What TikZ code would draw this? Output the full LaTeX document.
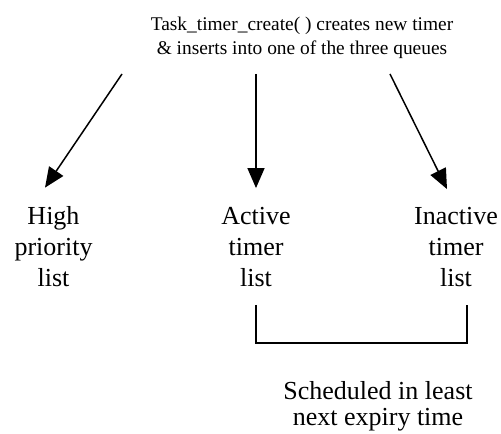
\documentclass[tikz,border=0pt]{standalone}
\usepackage{fontspec}
\setmainfont{Liberation Serif}
\usetikzlibrary{positioning,arrows.meta}

\begin{document}
\begin{tikzpicture}[
    x=1pt, y=1pt,
    >={Triangle[length=20pt,width=17pt]},
    head/.style={align=center, inner sep=0pt, font=\fontsize{19.4}{24}\selectfont},
    lst/.style={align=center, inner sep=0pt, font=\fontsize{26}{31}\selectfont},
    note/.style={align=center, inner sep=0pt, font=\fontsize{26}{26}\selectfont},
    flow/.style={->, line width=1.5pt},
    brace/.style={line width=1.5pt},
]
\useasboundingbox (0,0) rectangle (501,434);

% creator call
\node[head] (title) at (302,396)
    {Task\_timer\_create( ) creates new timer\\ \& inserts into one of the three queues};

% the three queues
\node[lst] (high) at (53.5,187) {High\\priority\\list};
\node[lst] (active) at (256,187) {Active\\timer\\list};
\node[lst] (inactive) at (456,187) {Inactive\\timer\\list};

\draw[flow] ([xshift=-180pt,yshift=-15pt]title.south) -- ([xshift=-8.5pt,yshift=19pt]high.north);
\draw[flow] ([xshift=-46pt,yshift=-15pt]title.south) -- ([yshift=19pt]active.north);
\draw[flow] ([xshift=88pt,yshift=-15pt]title.south) -- ([xshift=-9pt,yshift=18pt]inactive.north);

% active + inactive grouped
\coordinate (brl) at ([yshift=-18pt]active.south);
\coordinate (brr) at ([xshift=11pt,yshift=-18pt]inactive.south);
\draw[brace] (brl) -- ++(0,-38) -| (brr);

\node[note] (sched) at (378,28) {Scheduled in least\\next expiry time};
\end{tikzpicture}
\end{document}
